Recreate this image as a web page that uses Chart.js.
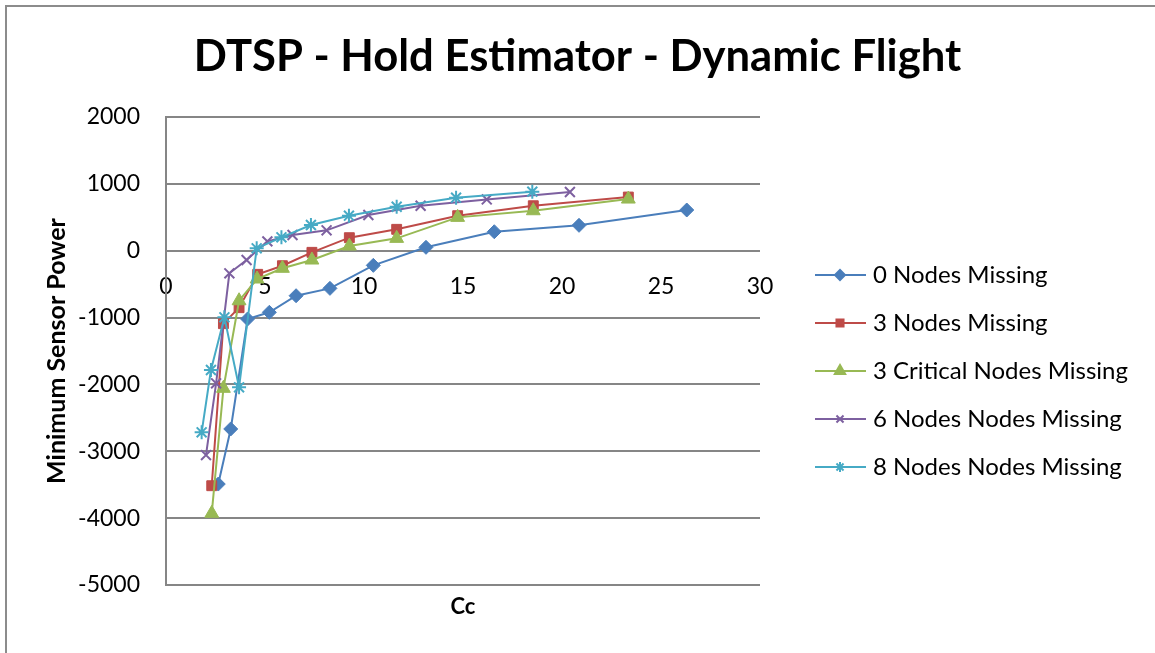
<!DOCTYPE html>
<html lang="en">
<head>
  <meta charset="UTF-8" />
  <title>DTSP - Hold Estimator - Dynamic Flight</title>
  <script src="https://cdn.jsdelivr.net/npm/chart.js"></script>
  <style>
    html, body {
      margin: 0;
      padding: 0;
      width: 1155px;
      height: 653px;
      overflow: hidden;
      background: #fff;
    }
    /* thin frame around the chart object (left and top edges visible) */
    .frame {
      position: absolute;
      left: 5px;
      top: 5px;
      width: 1200px;
      height: 700px;
      border-left: 2px solid #8c8c8c;
      border-top: 2px solid #8c8c8c;
    }
    #wrap {
      position: absolute;
      left: 0;
      top: 0;
      width: 1155px;
      height: 653px;
    }
  </style>
</head>
<body>
  <div class="frame"></div>
  <div id="wrap"><canvas id="holdChart" width="1155" height="653"></canvas></div>

  <script>
    // ---- data: Cc vs minimum sensor power for each missing-node case ----
    const seriesNames = [
      '0 Nodes Missing',
      '3 Nodes Missing',
      '3 Critical Nodes Missing',
      '6 Nodes Nodes Missing',
      '8 Nodes Nodes Missing'
    ];

    const cc0 = [2.64, 3.27, 4.12, 5.22, 6.57, 8.28, 10.47, 13.13, 16.58, 20.86, 26.3];
    const power0 = [-3490, -2666, -1021, -921, -673, -563, -219, 51, 284, 380, 609];

    const cc3 = [2.31, 2.9, 3.69, 4.63, 5.88, 7.37, 9.26, 11.65, 14.73, 18.55, 23.35];
    const power3 = [-3515, -1091, -852, -353, -224, -24, 195, 320, 524, 673, 803];

    const cc3c = [2.31, 2.9, 3.69, 4.6, 5.88, 7.37, 9.26, 11.65, 14.73, 18.55, 23.35];
    const power3c = [-3928, -2058, -748, -423, -263, -139, 70, 185, 499, 598, 773];

    const cc6 = [2.02, 2.53, 3.2, 4.07, 5.12, 6.39, 8.11, 10.22, 12.86, 16.2, 20.4];
    const power6 = [-3056, -1984, -338, -139, 140, 235, 305, 534, 673, 768, 878];

    const cc8 = [1.8, 2.27, 2.95, 3.69, 4.58, 5.83, 7.32, 9.24, 11.65, 14.65, 18.5];
    const power8 = [-2716, -1784, -996, -2043, 36, 200, 385, 524, 658, 793, 883];

    const xTicks = [0, 5, 10, 15, 20, 25, 30];
    const yTicks = [-5000, -4000, -3000, -2000, -1000, 0, 1000, 2000];

    // ---- styling per series (Office palette, Excel markers) ----
    const colors = ['#4A7EBB', '#BE4B48', '#98B954', '#7D60A0', '#46AAC5'];
    const markers = ['rectRot', 'rect', 'triangle', 'crossRot', 'star'];
    const markerRadius = [7, 7, 8, 7, 7];

    const xValues = [cc0, cc3, cc3c, cc6, cc8];
    const yValues = [power0, power3, power3c, power6, power8];

    const gridGray = '#868686';
    const FONT = 'Lato, "Open Sans", sans-serif';

    const isStroked = s => s === 'crossRot' || s === 'star';

    const datasets = seriesNames.map((name, i) => ({
      label: name,
      data: xValues[i].map((x, k) => ({ x: x, y: yValues[i][k] })),
      showLine: true,
      borderColor: colors[i],
      backgroundColor: colors[i],
      borderWidth: 2,
      pointStyle: markers[i],
      pointRadius: markerRadius[i],
      pointBorderWidth: isStroked(markers[i]) ? 2 : 1,
      pointBorderColor: colors[i],
      pointBackgroundColor: colors[i],
      tension: 0,
      order: seriesNames.length - i   // later series painted on top
    }));

    // legend drawn by hand: line sample with marker, then the label
    const sideLegend = {
      id: 'sideLegend',
      afterDraw(chart) {
        const ctx = chart.ctx;
        const top = 275, step = 48;
        ctx.save();
        seriesNames.forEach((name, i) => {
          const y = top + i * step;
          ctx.strokeStyle = colors[i];
          ctx.fillStyle = colors[i];
          ctx.lineWidth = 2;
          ctx.beginPath();
          ctx.moveTo(815, y);
          ctx.lineTo(866, y);
          ctx.stroke();
          Chart.helpers.drawPoint(ctx, {
            pointStyle: markers[i],
            radius: markerRadius[i] - 2,
            rotation: 0,
            borderWidth: isStroked(markers[i]) ? 2 : 1
          }, 840, y);
          ctx.fillStyle = '#000';
          ctx.font = '24px ' + FONT;
          ctx.textAlign = 'left';
          ctx.textBaseline = 'middle';
          ctx.fillText(name, 873, y);
        });
        ctx.restore();
      }
    };

    const plainNumber = v => String(v);

    new Chart(document.getElementById('holdChart'), {
      type: 'scatter',
      data: { datasets: datasets },
      options: {
        responsive: false,
        animation: false,
        layout: { padding: 0 },
        plugins: {
          legend: { display: false },
          tooltip: { enabled: false },
          title: {
            display: true,
            text: 'DTSP - Hold Estimator - Dynamic Flight',
            color: '#000',
            font: { family: FONT, size: 43.6, weight: 'bold', lineHeight: 1.2 },
            padding: { top: 31, bottom: 33.7 }
          }
        },
        scales: {
          x: {
            type: 'linear',
            position: { y: 0 },
            min: 0,
            max: 30,
            afterBuildTicks(axis) {
              axis.ticks = xTicks.map(v => ({ value: v }));
            },
            grid: { display: false, drawTicks: false },
            border: { display: false },
            ticks: {
              color: '#000',
              padding: 22,
              maxRotation: 0,
              callback: plainNumber,
              font: { family: FONT, size: 23 }
            }
          },
          xTitle: {
            type: 'linear',
            position: 'bottom',
            min: 0,
            max: 30,
            grid: { display: false, drawTicks: false },
            border: { display: false },
            ticks: { display: false },
            title: {
              display: true,
              text: 'Cc',
              color: '#000',
              font: { family: FONT, size: 22, weight: 'bold', lineHeight: 1.2 },
              padding: { top: 0, bottom: 33 }
            },
            afterFit(axis) { axis.height = 68; }
          },
          y: {
            type: 'linear',
            position: 'left',
            min: -5000,
            max: 2000,
            afterBuildTicks(axis) {
              axis.ticks = yTicks.map(v => ({ value: v }));
            },
            grid: { color: gridGray, lineWidth: 2, drawTicks: false },
            border: { display: true, color: gridGray, width: 2 },
            ticks: {
              color: '#000',
              padding: 26,
              callback: plainNumber,
              font: { family: FONT, size: 23 }
            },
            title: {
              display: true,
              text: 'Minimum Sensor Power',
              color: '#000',
              font: { family: FONT, size: 25, weight: 'bold', lineHeight: 1.2 },
              padding: { top: 42, bottom: 42 }
            },
            afterFit(axis) { axis.width = 166; }
          },
          // empty right-hand column that holds the legend area
          legendSpace: {
            type: 'linear',
            position: 'right',
            min: 0,
            max: 1,
            grid: { display: false, drawTicks: false },
            border: { display: false },
            ticks: { display: false },
            afterFit(axis) { axis.width = 395; }
          }
        }
      },
      plugins: [sideLegend]
    });
  </script>
</body>
</html>
